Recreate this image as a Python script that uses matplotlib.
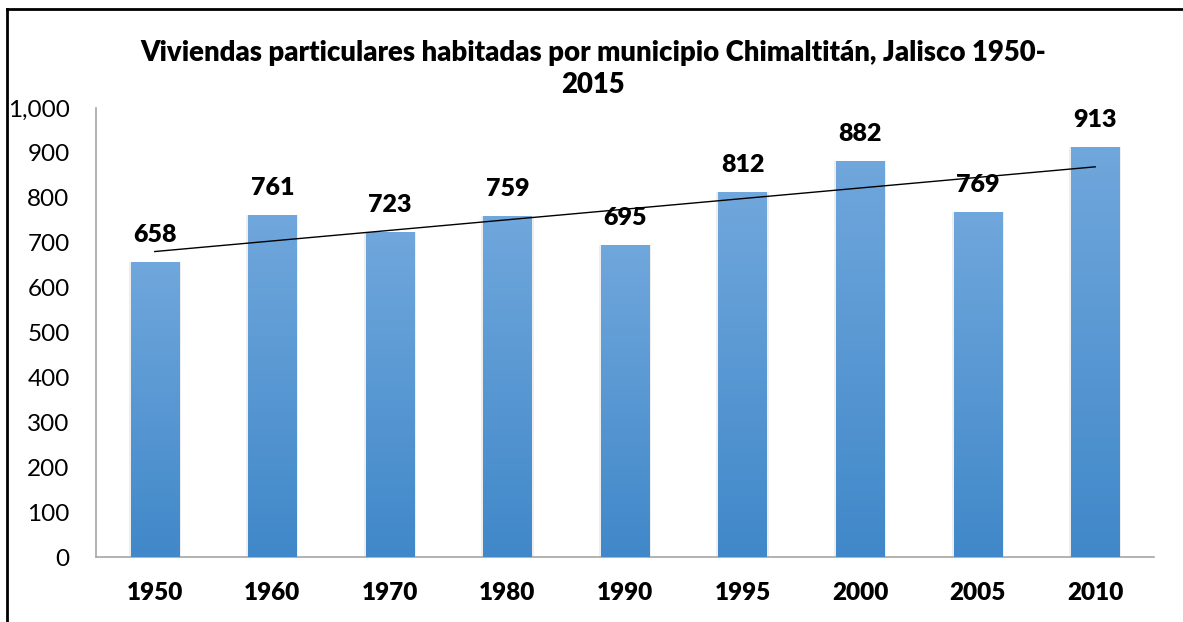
import numpy as np
import matplotlib
matplotlib.use('Agg')
import matplotlib.pyplot as plt
from matplotlib.lines import Line2D
from matplotlib.colors import LinearSegmentedColormap
from matplotlib.ticker import FuncFormatter

plt.rcParams['font.family'] = ['Lato', 'DejaVu Sans']

years = ['1950', '1960', '1970', '1980', '1990', '1995', '2000', '2005', '2010']
viviendas = [658, 761, 723, 759, 695, 812, 882, 769, 913]

fig = plt.figure(figsize=(11.83, 6.22), dpi=100)
ax = fig.add_axes([96 / 1183, 1 - 557 / 622, 1058 / 1183, 449 / 622])

x = np.arange(len(years))
bars = ax.bar(x, viviendas, width=0.41, color='#5b9bd5', zorder=2)

# gradient fill, lighter on top
cmap = LinearSegmentedColormap.from_list('barblue', ['#4088c9', '#70a7dc'])
grad = np.linspace(0, 1, 256).reshape(-1, 1)
for b in bars:
    x0 = b.get_x()
    w = b.get_width()
    h = b.get_height()
    # soft shadow
    ax.bar(x0 + w / 2, h, width=w + 0.035, color='#c8c8c8', alpha=0.3, zorder=1)
    im = ax.imshow(grad, extent=[x0, x0 + w, 0, h], origin='lower', aspect='auto',
                   cmap=cmap, zorder=3)
    im.set_clip_path(b)

for xi, v in zip(x, viviendas):
    ax.text(xi, v + 60, str(v), ha='center', va='center', fontsize=18, fontweight='heavy', zorder=5)

# linear trend line
coef = np.polyfit(x, viviendas, 1)
ax.plot(x, np.polyval(coef, x), color='black', lw=1, zorder=4)

ax.set_xlim(-0.5, len(years) - 0.5)
ax.set_ylim(0, 1000)
ax.set_yticks(range(0, 1001, 100))
ax.yaxis.set_major_formatter(FuncFormatter(lambda v, p: f'{int(v):,}'))
ax.set_xticks(x)
ax.set_xticklabels(years, fontsize=17.5, fontweight='heavy')
ax.tick_params(axis='y', length=0, labelsize=17.5, pad=19)
ax.tick_params(axis='x', length=0, pad=18)
for s in ['top', 'right']:
    ax.spines[s].set_visible(False)
for s in ['left', 'bottom']:
    ax.spines[s].set_color('#a6a6a6')
    ax.spines[s].set_linewidth(1.2)

fig.text(593 / 1183, 1 - 69 / 622,
         'Viviendas particulares habitadas por municipio Chimaltitán, Jalisco 1950-\n2015',
         ha='center', va='center', fontsize=19.8, fontweight='heavy', linespacing=1.3)

# outer frame
fig.add_artist(Line2D([7 / 1183, 7 / 1183], [0, 1 - 9 / 622], color='black', lw=2, transform=fig.transFigure))
fig.add_artist(Line2D([7 / 1183, 1], [1 - 9 / 622, 1 - 9 / 622], color='black', lw=2, transform=fig.transFigure))

fig.savefig('out.png', dpi=100)
